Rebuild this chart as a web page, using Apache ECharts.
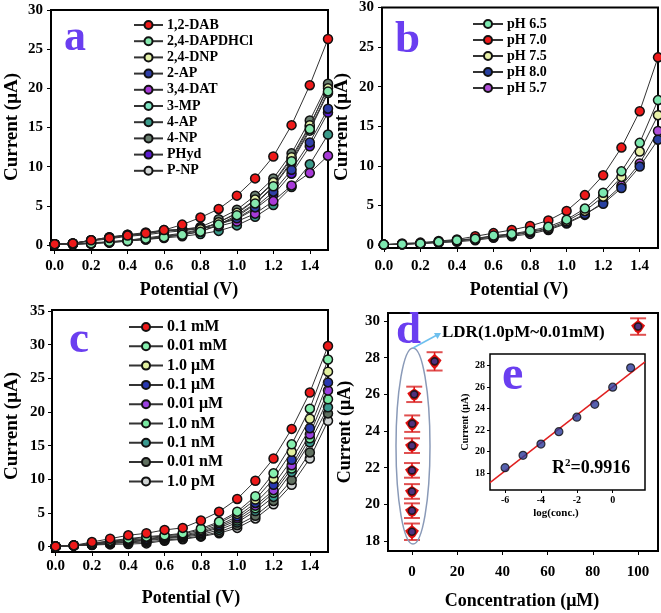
<!DOCTYPE html>
<html><head><meta charset="utf-8">
<script src="https://cdn.jsdelivr.net/npm/echarts@6/dist/echarts.min.js"></script>
<style>html,body{margin:0;padding:0;background:#fff}#c{width:661px;height:613px}</style>
</head><body><div id="c"></div><script>
// ---------- DATA ----------
const potential = [0,0.1,0.2,0.3,0.4,0.5,0.6,0.7,0.8,0.9,1.0,1.1,1.2,1.3,1.4,1.5];
const potTicks = [0,0.2,0.4,0.6,0.8,1.0,1.2,1.4];

// panel a
const aNames = ['1,2-DAB','2,4-DAPDHCl','2,4-DNP','2-AP','3,4-DAT','3-MP','4-AP','4-NP','PHyd','P-NP'];
const aDAB    = [0.1,0.2,0.6,0.9,1.2,1.5,1.9,2.6,3.5,4.6,6.3,8.5,11.3,15.3,20.4,26.3];
const aDAPDHCl= [0.1,0.1,0.2,0.4,0.5,0.8,1.0,1.3,1.7,2.6,3.8,5.3,7.5,10.7,14.8,19.6];
const aDNP    = [0.1,0.1,0.3,0.4,0.6,0.9,1.2,1.5,2.0,2.9,4.1,5.8,8.0,11.2,15.3,20.0];
const aAP2    = [0.1,0.2,0.5,0.8,1.1,1.3,1.6,1.8,2.1,2.8,3.4,4.8,6.8,9.6,13.1,17.4];
const aDAT    = [0.1,0.2,0.6,1.0,1.3,1.5,1.8,1.9,2.1,2.4,3.0,4.0,5.6,7.6,9.2,11.4];
const aMP3    = [0.1,0.1,0.2,0.3,0.5,0.7,1.0,1.3,1.7,2.5,3.6,5.2,7.4,10.5,14.6,19.4];
const aAP4    = [0.1,0.1,0.2,0.3,0.5,0.7,0.9,1.1,1.4,1.8,2.5,3.6,5.1,7.4,10.3,14.1];
const aNP4    = [0.1,0.2,0.6,0.9,1.2,1.4,1.8,2.0,2.3,3.3,4.5,6.3,8.5,11.7,15.9,20.6];
const aPHyd   = [0.1,0.2,0.6,1.0,1.3,1.6,1.9,2.0,2.2,2.7,3.3,4.6,6.4,9.1,12.6,16.9];
const aPNP    = [0.1,0.1,0.2,0.4,0.6,0.8,1.1,1.4,1.9,2.9,4.0,5.7,7.9,11.0,15.1,20.3];
const aValues = [aDAB,aDAPDHCl,aDNP,aAP2,aDAT,aMP3,aAP4,aNP4,aPHyd,aPNP];
const aColors = ['#ee1a1a','#86e8ae','#e4f0a8','#2f3fa8','#a83ad8','#7ee4c4','#3a9a8a','#6a7f70','#5a1ad0','#d4d8d8'];
const aTicksY = [0,5,10,15,20,25,30];

// panel b
const bNames = ['pH 6.5','pH 7.0','pH 7.5','pH 8.0','pH 5.7'];
const bPH65 = [0.05,0.1,0.2,0.4,0.6,0.8,1.2,1.4,1.8,2.3,3.2,4.6,6.6,9.3,12.9,18.3];
const bPH70 = [0.05,0.2,0.3,0.5,0.7,1.1,1.5,1.9,2.4,3.1,4.3,6.3,8.8,12.3,16.9,23.7];
const bPH75 = [0.05,0.1,0.2,0.4,0.6,0.8,1.1,1.3,1.7,2.1,3.0,4.3,6.1,8.6,11.8,16.4];
const bPH80 = [0.05,0.1,0.2,0.3,0.5,0.7,1.0,1.2,1.6,2.0,2.8,3.9,5.2,7.2,9.9,13.3];
const bPH57 = [0.05,0.1,0.2,0.3,0.4,0.6,0.9,1.1,1.4,1.9,2.7,3.8,5.4,7.5,10.3,14.4];
const bValues = [bPH65,bPH70,bPH75,bPH80,bPH57];
const bColors = ['#7de8b0','#ee1a1a','#e8f0a8','#2840a0','#b050d8'];
const bTicksY = [0,5,10,15,20,25,30];

// panel c
const cNames = ['0.1 mM','0.01 mM','1.0 μM','0.1 μM','0.01 μM','1.0 nM','0.1 nM','0.01 nM','1.0 pM'];
const c01mM  = [0.05,0.2,0.7,1.2,1.7,2.0,2.5,2.8,3.9,5.2,7.1,9.8,13.1,17.5,22.9,29.8];
const c001mM = [0.05,0.2,0.5,0.9,1.2,1.5,1.7,2.0,2.7,3.7,5.2,7.5,10.9,15.2,20.5,27.8];
const c1uM   = [0.05,0.2,0.5,0.8,1.1,1.4,1.6,1.9,2.5,3.5,4.9,7.0,10.1,14.1,19.0,26.0];
const c01uM  = [0.05,0.2,0.4,0.7,1.0,1.2,1.5,1.7,2.3,3.2,4.5,6.5,9.2,12.9,17.6,24.4];
const c001uM = [0.05,0.2,0.4,0.7,0.9,1.1,1.4,1.6,2.1,3.0,4.2,6.1,8.4,12.1,16.7,23.2];
const c1nM   = [0.05,0.2,0.4,0.6,0.8,1.0,1.3,1.5,2.0,2.8,3.9,5.7,8.0,11.6,16.1,21.9];
const c01nM  = [0.05,0.2,0.3,0.5,0.7,0.9,1.2,1.4,1.8,2.5,3.6,5.3,7.4,11.1,15.5,20.7];
const c001nM = [0.05,0.2,0.3,0.5,0.6,0.7,1.0,1.2,1.6,2.2,3.2,4.6,6.8,9.9,14.0,19.8];
const c1pM   = [0.05,0.15,0.25,0.35,0.4,0.5,0.9,1.1,1.5,2.0,2.8,4.2,6.3,9.2,13.1,18.7];
const cValues = [c01mM,c001mM,c1uM,c01uM,c001uM,c1nM,c01nM,c001nM,c1pM];
const cColors = ['#ee1a1a','#86f0ae','#e2f0a0','#2838b0','#9a40e0','#78e8a0','#3a9a90','#607060','#d0d4d4'];
const cTicksY = [0,5,10,15,20,25,30,35];

// panel d (concentration in μM)
const dConc    = [0.000001,0.00001,0.0001,0.001,0.01,0.1,1,10,100];
const dCurrent = [18.5,19.65,20.7,21.85,23.2,24.4,26.0,27.8,29.7];
const dErr     = [0.45,0.4,0.4,0.4,0.4,0.45,0.42,0.5,0.45];
const dTicksX  = [0,20,40,60,80,100];
const dTicksY  = [18,20,22,24,26,28,30];

// inset e
const eCount   = 8;
const eTicksX  = [-6,-4,-2,0];
const eTicksY  = [18,20,22,24,26,28];
const eR2      = '0.9916';

// ---------- CHART ----------
const FONT = "'Liberation Serif','Times New Roman',serif";
const chart = echarts.init(document.getElementById('c'), null, {renderer:'canvas'});

const grids = [
  {left:51, top:10, width:277, height:240},
  {left:382, top:7, width:276, height:241},
  {left:52, top:310, width:276, height:242},
  {left:388, top:313, width:270, height:238},
  {left:490, top:354, width:155, height:136}
].map((g,i)=>Object.assign({show:true, borderColor:'#000', borderWidth: i===4?1.5:2, backgroundColor:'#fff', containLabel:false}, g));

function axis(gi, min, max, ticks, fmt, fs, margin, tickLen){
  return {type:'value', gridIndex:gi, min, max,
    axisLine:{show:false, onZero:false}, splitLine:{show:false},
    axisTick:{show:true, customValues:ticks, length:tickLen||4, lineStyle:{color:'#000', width:1}},
    axisLabel:{customValues:ticks, formatter:fmt, fontFamily:FONT, fontWeight:'bold', fontSize:fs, color:'#000', margin}
  };
}
const f1 = v => v.toFixed(1);
const f0 = v => String(Math.round(v));

const xAxes = [
  axis(0,-0.02,1.5,potTicks,f1,15,9),
  axis(1,-0.01,1.5,potTicks,f1,15,11),
  axis(2,-0.02,1.5,potTicks,f1,15,7),
  axis(3,-10.6,108.8,dTicksX,f0,15,14),
  axis(4,-6.84,1.8,eTicksX,f0,10,5,3)
];
const yAxes = [
  axis(0,-0.64,30,aTicksY,f0,15,8),
  axis(1,-0.38,30,bTicksY,f0,15,8),
  axis(2,-0.78,35.15,cTicksY,f0,15,7),
  axis(3,17.45,30.44,dTicksY,f0,15,8),
  axis(4,16.42,29.09,eTicksY,f0,10,5,3)
];

const series = [];
function addLines(names, values, colors, gi){
  names.forEach((n,k)=>{
    series.push({type:'line', name:n, xAxisIndex:gi, yAxisIndex:gi,
      data: potential.map((x,i)=>[x, values[k][i]]),
      symbol:'circle', symbolSize:9, clip:false,
      lineStyle:{color:'#333', width:1},
      itemStyle:{color:colors[k], borderColor:'#111', borderWidth:1.5},
      z: 10 + (names.length - k)
    });
  });
}
addLines(aNames, aValues, aColors, 0);
addLines(bNames, bValues, bColors, 1);
addLines(cNames, cValues, cColors, 2);

// panel d error bars
series.push({type:'custom', xAxisIndex:3, yAxisIndex:3, z:20,
  data: dConc.map((c,i)=>[c, dCurrent[i], dErr[i]]),
  renderItem:(params, api)=>{
    const x = api.value(0), y = api.value(1), e = api.value(2);
    const p = api.coord([x,y]), t = api.coord([x,y+e]), b = api.coord([x,y-e]);
    const w = 8, cx = p[0], cy = p[1];
    return {type:'group', children:[
      {type:'line', shape:{x1:cx-w,y1:t[1],x2:cx+w,y2:t[1]}, style:{stroke:'#e05050',lineWidth:2}},
      {type:'line', shape:{x1:cx-w,y1:b[1],x2:cx+w,y2:b[1]}, style:{stroke:'#e05050',lineWidth:2}},
      {type:'line', shape:{x1:cx,y1:t[1],x2:cx,y2:b[1]}, style:{stroke:'#e01010',lineWidth:1.5}},
      {type:'polygon', shape:{points:[[cx,t[1]+1.5],[cx+7,cy-1],[cx+3,cy+5],[cx,b[1]-1],[cx-3,cy+5],[cx-7,cy-1]]}, style:{fill:'#e01010'}}
    ]};
  }
});
series.push({type:'scatter', xAxisIndex:3, yAxisIndex:3, z:21,
  data: dConc.map((c,i)=>[c, dCurrent[i]]),
  symbol:'circle', symbolSize:7,
  itemStyle:{color:'#2a3a9a', borderColor:'#111', borderWidth:1.6}
});

// inset e
const eX = dConc.slice(0,eCount).map(c=>Math.log10(c));
const eY = dCurrent.slice(0,eCount);
const mx = eX.reduce((s,v)=>s+v,0)/eCount, my = eY.reduce((s,v)=>s+v,0)/eCount;
let sxy=0, sxx=0; eX.forEach((x,i)=>{sxy+=(x-mx)*(eY[i]-my); sxx+=(x-mx)*(x-mx);});
const slope = sxy/sxx, icpt = my - slope*mx;
const eMin = xAxes[4].min, eMax = xAxes[4].max;
series.push({type:'line', xAxisIndex:4, yAxisIndex:4, z:20, symbol:'none',
  data:[[eMin, icpt+slope*eMin],[eMax, icpt+slope*eMax]],
  lineStyle:{color:'#e02020', width:1.5}});
series.push({type:'scatter', xAxisIndex:4, yAxisIndex:4, z:21,
  data: eX.map((x,i)=>[x,eY[i]]), symbol:'circle', symbolSize:8,
  itemStyle:{color:'#2a3a9a', borderColor:'#111', borderWidth:1.2}});

function legend(names, left, top, itemWidth, fs, gap){
  return {data:names, orient:'vertical', left, top, itemWidth, itemHeight:10, itemGap:gap,
    selectedMode:false, padding:0,
    textStyle:{fontFamily:FONT, fontWeight:'bold', fontSize:fs, color:'#000', padding:[0,0,0,-1]}};
}

function txt(text, x, y, fs, opts){
  return Object.assign({type:'text', x, y, z:50, style:Object.assign({text, font:`bold ${fs}px ${FONT}`, fill:'#000', textAlign:'center', textVerticalAlign:'middle'}, opts||{})});
}
function vtxt(text, x, y, fs){
  return {type:'text', x, y, rotation:Math.PI/2, z:50, style:{text, font:`bold ${fs}px ${FONT}`, fill:'#000', textAlign:'center', textVerticalAlign:'middle'}};
}
const letterColor = '#6a3ef0';
const graphic = [
  txt('Potential (V)', 189, 290, 18),
  vtxt('Current (μA)', 12, 127, 19),
  txt('Potential (V)', 519, 290, 18),
  vtxt('Current (μA)', 342, 127, 19),
  txt('Potential (V)', 191, 598, 18),
  vtxt('Current (μA)', 12, 426, 19),
  txt('Concentration (μM)', 522, 601, 18),
  vtxt('Current (μA)', 345, 432, 18),
  txt('log(conc.)', 556, 513, 11),
  vtxt('Current (μA)', 465, 422, 10),
  {type:'text', x:552, y:468, z:50, style:{text:'{r|R}{s|2}{r|=' + eR2 + '}', textVerticalAlign:'middle',
     rich:{r:{font:`bold 18px ${FONT}`, fill:'#000'}, s:{font:`bold 11px ${FONT}`, fill:'#000', padding:[0,0,10,0]}}}},
  txt('a', 64, 38.5, 44, {fill:letterColor, textAlign:'left'}),
  txt('b', 395, 40, 45, {fill:letterColor, textAlign:'left'}),
  txt('c', 69, 340, 45, {fill:letterColor, textAlign:'left'}),
  txt('d', 396, 331, 45, {fill:letterColor, textAlign:'left'}),
  txt('e', 502, 377, 48, {fill:letterColor, textAlign:'left'}),
  {type:'ellipse', z:30, shape:{cx:413, cy:446, rx:17, ry:98}, style:{fill:null, stroke:'#8a9ab8', lineWidth:1.5}},
  {type:'line', z:30, shape:{x1:413, y1:348, x2:437, y2:335}, style:{stroke:'#6ec0ee', lineWidth:1.5}},
  {type:'polygon', z:30, shape:{points:[[441,333],[434,333],[437.5,339]]}, style:{fill:'#6ec0ee'}},
  txt('LDR(1.0pM~0.01mM)', 442, 333, 17, {textAlign:'left'})
];

chart.setOption({
  animation:false,
  backgroundColor:'#fff',
  grid:grids, xAxis:xAxes, yAxis:yAxes,
  legend:[
    legend(aNames, 133, 18, 29, 14, 2.2),
    legend(bNames, 472, 17, 30, 14, 2),
    legend(cNames, 128, 319, 34, 16, 3.3)
  ],
  series, graphic
});
</script></body></html>
